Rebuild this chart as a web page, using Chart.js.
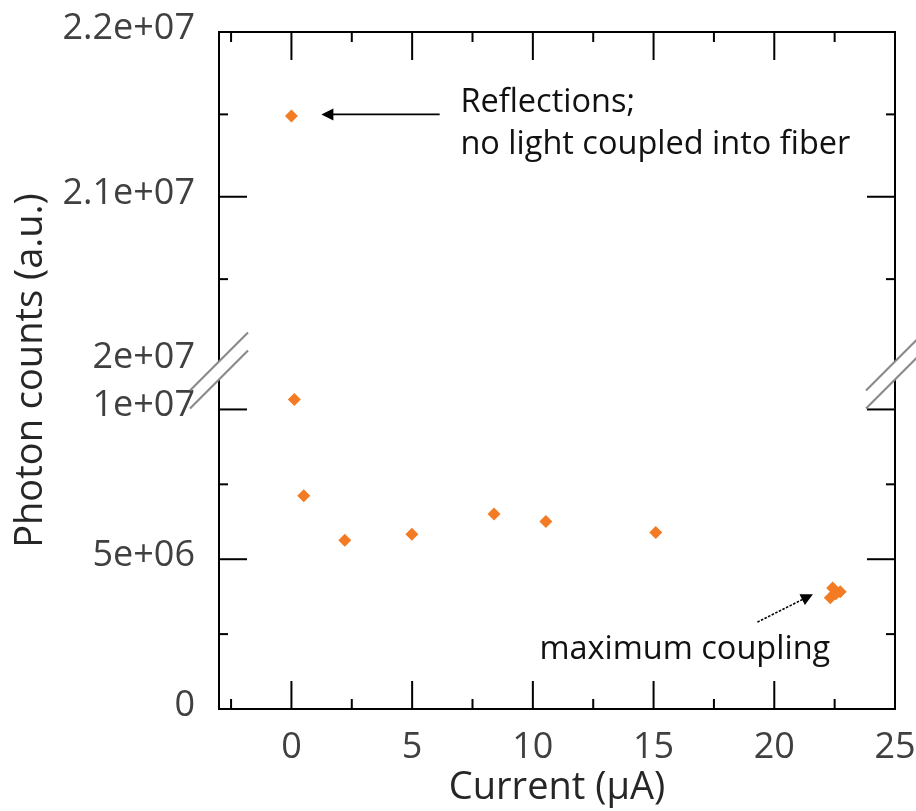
<!DOCTYPE html>
<html>
<head>
<meta charset="utf-8">
<script src="https://cdn.jsdelivr.net/npm/chart.js@4/dist/chart.umd.min.js"></script>
<style>
html,body{margin:0;padding:0;background:#fff;}
#wrap{width:916px;height:811px;position:relative;}
</style>
</head>
<body>
<div id="wrap"><canvas id="c" width="916" height="811"></canvas></div>
<script>
// ---------------- data ----------------
const currentUA    = [0.00, 0.12, 0.51, 2.21, 4.99, 8.39, 10.54, 15.09, 22.42, 22.32, 22.73, 22.55];
const photonCounts = [2.149e7, 1.033e7, 7.12e6, 5.63e6, 5.83e6, 6.51e6, 6.26e6, 5.89e6, 4.04e6, 3.71e6, 3.91e6, 3.85e6];

// axis ranges (broken y axis)
const xRange      = [-3, 25];
const yLowerRange = [0, 1.16e7];   // lower part (1.1e7..1.16e7 is the break gap)
const yLowerEnd   = 1.1e7;         // where the lower axis line stops
const yUpperRange = [2.0e7, 2.2e7];

// tick values and labels
const xMajorTicks = [0, 5, 10, 15, 20, 25];
const xMinorTicks = [-2.5, 2.5, 7.5, 12.5, 17.5, 22.5];
const yLowerLabelTicks = [0, 5e6, 1e7];
const yLowerLabels     = ['0', '5e+06', '1e+07'];
const yLowerMajorMarks = [5e6, 1e7];
const yLowerMinorMarks = [2.5e6, 7.5e6];
const yUpperLabelTicks = [2.0e7, 2.1e7, 2.2e7];
const yUpperLabels     = ['2e+07', '2.1e+07', '2.2e+07'];
const yUpperMajorMarks = [2.1e7];
const yUpperMinorMarks = [2.05e7, 2.15e7];

// annotations (data coordinates)
const noteReflText  = ['Reflections;', 'no light coupled into fiber'];
const noteReflPos   = [[7.0, 2.157e7], [7.0, 2.1315e7]];
const arrowRefl     = [[6.14, 2.15e7], [1.24, 2.15e7]];
const noteMaxText   = 'maximum coupling';
const noteMaxPos    = [10.27, 1.97e6];
const arrowMax      = [[19.3, 2.9e6], [21.6, 3.83e6]];

// ---------------- build datasets ----------------
const upperMin = yUpperRange[0];
const lowerPts = [], upperPts = [];
currentUA.forEach((x, i) => {
  const p = {x: x, y: photonCounts[i]};
  if (photonCounts[i] >= upperMin) upperPts.push(p); else lowerPts.push(p);
});

const FONT = "'Open Sans', 'Noto Sans', sans-serif";
const orange = '#F37B23';

const decorPlugin = {
  id: 'decor',
  afterDraw(chart) {
    const ctx = chart.ctx;
    const {left, right, top, bottom} = chart.chartArea;
    const xs = chart.scales.x, yl = chart.scales.y, yu = chart.scales.yTop;
    const brTop = yu.getPixelForValue(yUpperRange[0]);
    const brBot = yl.getPixelForValue(yLowerEnd);
    ctx.save();
    ctx.strokeStyle = '#000';
    ctx.lineWidth = 2;
    ctx.lineCap = 'butt';
    const line = (x1, y1, x2, y2) => { ctx.beginPath(); ctx.moveTo(x1, y1); ctx.lineTo(x2, y2); ctx.stroke(); };
    // frame
    line(left - 1, top, right + 1, top);
    line(left - 1, bottom, right + 1, bottom);
    line(left, top, left, brTop);
    line(left, brBot, left, bottom);
    line(right, top, right, brTop);
    line(right, brBot, right, bottom);
    // x ticks (inward, bottom and top)
    xMajorTicks.forEach(v => { const p = xs.getPixelForValue(v); line(p, bottom, p, bottom - 28); line(p, top, p, top + 28); });
    xMinorTicks.forEach(v => { const p = xs.getPixelForValue(v); line(p, bottom, p, bottom - 10); line(p, top, p, top + 10); });
    // y ticks (inward, left and right)
    const yt = (scale, vals, len) => vals.forEach(v => { const p = scale.getPixelForValue(v); line(left, p, left + len, p); line(right, p, right - len, p); });
    yt(yl, yLowerMajorMarks, 28); yt(yl, yLowerMinorMarks, 9);
    yt(yu, yUpperMajorMarks, 28); yt(yu, yUpperMinorMarks, 9);
    // break marks
    ctx.strokeStyle = '#8a8a8a';
    ctx.lineWidth = 2.2;
    [left, right].forEach(ax => {
      [brTop, brBot].forEach(py => line(ax - 29, py + 29, ax + 29, py - 29));
    });
    // arrows
    ctx.strokeStyle = '#000'; ctx.fillStyle = '#000';
    const arrow = (a, b, sx, sy, dash, lw) => {
      const x1 = xs.getPixelForValue(a[0]), y1 = sy.getPixelForValue(a[1]);
      const x2 = xs.getPixelForValue(b[0]), y2 = sy.getPixelForValue(b[1]);
      const ang = Math.atan2(y2 - y1, x2 - x1);
      const hl = 12, hw = 6;
      ctx.lineWidth = lw;
      ctx.setLineDash(dash || []);
      line(x1, y1, x2 - Math.cos(ang) * hl * 0.8, y2 - Math.sin(ang) * hl * 0.8);
      ctx.setLineDash([]);
      ctx.beginPath();
      ctx.moveTo(x2, y2);
      ctx.lineTo(x2 - Math.cos(ang) * hl - Math.sin(ang) * hw, y2 - Math.sin(ang) * hl + Math.cos(ang) * hw);
      ctx.lineTo(x2 - Math.cos(ang) * hl + Math.sin(ang) * hw, y2 - Math.sin(ang) * hl - Math.cos(ang) * hw);
      ctx.closePath(); ctx.fill();
    };
    arrow(arrowRefl[0], arrowRefl[1], xs, yu, null, 1.8);
    arrow(arrowMax[0], arrowMax[1], xs, yl, [2.5, 1.5], 1.6);
    // annotation texts
    ctx.fillStyle = '#111';
    ctx.font = '32.5px ' + FONT;
    ctx.textAlign = 'left'; ctx.textBaseline = 'middle';
    noteReflText.forEach((t, i) => ctx.fillText(t, xs.getPixelForValue(noteReflPos[i][0]), yu.getPixelForValue(noteReflPos[i][1])));
    ctx.fillText(noteMaxText, xs.getPixelForValue(noteMaxPos[0]), yl.getPixelForValue(noteMaxPos[1]));
    // y axis title (spans both stacked scales)
    ctx.fillStyle = '#262626';
    ctx.font = '38px ' + FONT;
    ctx.textAlign = 'center';
    ctx.translate(31, (top + bottom) / 2);
    ctx.rotate(-Math.PI / 2);
    ctx.fillText('Photon counts (a.u.)', 0, 0);
    ctx.restore();
  }
};

const xTickFont = {family: FONT, size: 36};
// small lineHeight + an empty second line lifts the y labels a few px above their tick
const yTickFont = {family: FONT, size: 36, lineHeight: '7px'};
const tickColor = '#404040';

function zeroPad(s) { s.paddingTop = 0; s.paddingBottom = 0; s.paddingLeft = 0; s.paddingRight = 0; }

function makeChart() {
  new Chart(document.getElementById('c'), {
    type: 'scatter',
    data: {
      datasets: [
        {data: lowerPts, xAxisID: 'x', yAxisID: 'y'},
        {data: upperPts, xAxisID: 'x', yAxisID: 'yTop'}
      ]
    },
    options: {
      responsive: false,
      animation: false,
      devicePixelRatio: 1,
      layout: {padding: {top: 32, right: 21, left: 0, bottom: 0}},
      elements: {point: {pointStyle: 'rectRot', radius: 6.5, backgroundColor: orange, borderColor: orange, borderWidth: 0, hoverRadius: 6.5}},
      plugins: {legend: {display: false}, tooltip: {enabled: false}},
      scales: {
        x: {
          type: 'linear', position: 'bottom', min: xRange[0], max: xRange[1],
          grid: {display: false}, border: {display: false},
          afterBuildTicks: s => { s.ticks = xMajorTicks.map(v => ({value: v})); },
          afterFit: s => { s.height = 102; zeroPad(s); },
          ticks: {font: xTickFont, color: tickColor, padding: 9, maxRotation: 0, autoSkip: false,
                  callback: v => String(v)},
          title: {display: true, text: 'Current (μA)', font: {family: FONT, size: 38}, color: '#262626', padding: {top: 0, bottom: 0}}
        },
        yTop: {
          type: 'linear', position: 'left', stack: 'yb', stackWeight: 330, weight: 1,
          min: yUpperRange[0], max: yUpperRange[1],
          grid: {display: false}, border: {display: false},
          afterBuildTicks: s => { s.ticks = yUpperLabelTicks.map(v => ({value: v})); },
          afterFit: s => { s.width = 219; zeroPad(s); },
          ticks: {font: yTickFont, color: tickColor, padding: 16,
                  callback: v => [yUpperLabels[yUpperLabelTicks.indexOf(v)], '']}
        },
        y: {
          type: 'linear', position: 'left', stack: 'yb', stackWeight: 348, weight: 0,
          min: yLowerRange[0], max: yLowerRange[1],
          grid: {display: false}, border: {display: false},
          afterBuildTicks: s => { s.ticks = yLowerLabelTicks.map(v => ({value: v})); },
          afterFit: s => { s.width = 219; zeroPad(s); },
          ticks: {font: yTickFont, color: tickColor, padding: 16,
                  callback: v => [yLowerLabels[yLowerLabelTicks.indexOf(v)], '']}
        }
      }
    },
    plugins: [decorPlugin]
  });
}

if (document.fonts && document.fonts.load) {
  Promise.all([document.fonts.load("36px 'Open Sans'")]).then(makeChart, makeChart);
} else { makeChart(); }
</script>
</body>
</html>
